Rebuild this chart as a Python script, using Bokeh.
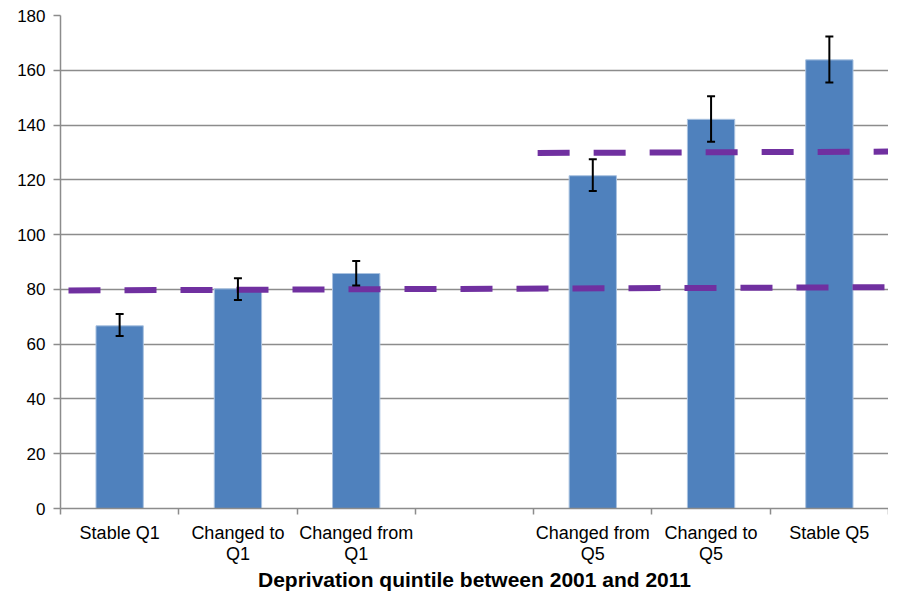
from bokeh.plotting import figure
from bokeh.models import ColumnDataSource, Whisker, TeeHead, FixedTicker
from bokeh.embed import file_html
from bokeh.resources import INLINE

categories = ["Stable Q1", "Changed to\nQ1", "Changed from\nQ1", "",
              "Changed from\nQ5", "Changed to\nQ5", "Stable Q5"]
values = [66.7, 80.2, 85.8, None, 121.5, 142.1, 163.8]
err_low = [63.0, 76.1, 81.4, None, 115.9, 133.9, 155.5]
err_high = [71.0, 84.1, 90.4, None, 127.5, 150.5, 172.3]

# dashed reference lines (start slot, end slot, start value, end value)
ref_low = dict(x=[0, 7], y=[79.6, 80.8])
ref_high = dict(x=[4, 7], y=[129.8, 130.3])

y_ticks = list(range(0, 181, 20))

xs, tops, lows, highs = [], [], [], []
for i, v in enumerate(values):
    if v is None:
        continue
    xs.append(i + 0.5)
    tops.append(v)
    lows.append(err_low[i])
    highs.append(err_high[i])

src = ColumnDataSource(dict(x=xs, top=tops, lower=lows, upper=highs))

p = figure(width=888, height=593, x_range=(0, len(categories)), y_range=(0, 180),
           output_backend="svg", toolbar_location=None,
           min_border_left=60, min_border_right=0, min_border_top=15, min_border_bottom=84)
p.outline_line_color = None
p.background_fill_color = "white"

p.vbar(x="x", top="top", width=0.4, source=src, fill_color="#4F81BD",
       line_color="#A9C2E0", line_width=1)

p.line(ref_low["x"], ref_low["y"], line_color="#7030A0", line_width=6,
       line_dash="32 24", line_dash_offset=48)
p.line(ref_high["x"], ref_high["y"], line_color="#7030A0", line_width=6,
       line_dash="32 24", line_dash_offset=52)

p.add_layout(Whisker(base="x", lower="lower", upper="upper", source=src,
                     level="overlay", line_color="black", line_width=2,
                     upper_head=TeeHead(size=8, line_color="black", line_width=2),
                     lower_head=TeeHead(size=8, line_color="black", line_width=2)))

# x axis
centers = [i + 0.5 for i in range(len(categories))]
p.xaxis.ticker = FixedTicker(ticks=centers, minor_ticks=list(range(len(categories) + 1)))
p.xaxis.major_label_overrides = {c: lab for c, lab in zip(centers, categories)}
p.xaxis.major_tick_out = 0
p.xaxis.major_tick_in = 0
p.xaxis.minor_tick_out = 6
p.xaxis.minor_tick_in = 0
p.xaxis.minor_tick_line_color = "#8C8C8C"
p.xaxis.minor_tick_line_width = 1.5
p.xaxis.axis_line_color = "#8C8C8C"
p.xaxis.axis_line_width = 1.5
p.xaxis.major_label_text_font = "Liberation Sans"
p.xaxis.major_label_text_font_size = "18px"
p.xaxis.major_label_text_color = "black"
p.xaxis.major_label_text_line_height = 1.05
p.xaxis.major_label_standoff = 8
p.xaxis.axis_label = "Deprivation quintile between 2001 and 2011"
p.xaxis.axis_label_text_font = "Liberation Sans"
p.xaxis.axis_label_text_font_style = "bold"
p.xaxis.axis_label_text_font_size = "21px"
p.xaxis.axis_label_text_color = "black"
p.xaxis.axis_label_standoff = 1
p.xgrid.grid_line_color = None

# y axis
p.yaxis.ticker = FixedTicker(ticks=y_ticks)
p.yaxis.major_tick_out = 7
p.yaxis.major_tick_in = 0
p.yaxis.minor_tick_line_color = None
p.yaxis.major_tick_line_color = "#8C8C8C"
p.yaxis.major_tick_line_width = 1.5
p.yaxis.axis_line_color = "#8C8C8C"
p.yaxis.axis_line_width = 1.5
p.yaxis.major_label_text_font = "Liberation Sans"
p.yaxis.major_label_text_font_size = "17px"
p.yaxis.major_label_text_color = "black"
p.yaxis.major_label_standoff = 8
p.ygrid.grid_line_color = "#8C8C8C"
p.ygrid.grid_line_width = 1.3

open("out.html", "w").write(file_html(p, INLINE))
